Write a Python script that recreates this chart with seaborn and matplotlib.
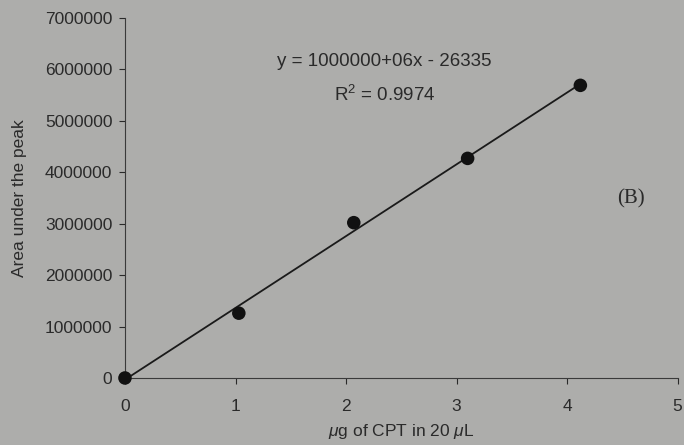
import matplotlib
matplotlib.use("Agg")
import matplotlib.pyplot as plt
import seaborn as sns
import pandas as pd

# Calibration data: amount of CPT injected vs. peak area
cpt_ug = [0.0, 1.03, 2.07, 3.10, 4.12]
peak_area = [0, 1260000, 3020000, 4270000, 5690000]
equation_text = "y = 1000000+06x - 26335"
r2_text = "R$^2$ = 0.9974"
panel_label = "(B)"

df = pd.DataFrame({"cpt": cpt_ug, "area": peak_area})

sns.set_theme(style="ticks")
plt.rcParams["font.family"] = ["Liberation Sans", "DejaVu Sans"]
plt.rcParams["mathtext.fontset"] = "custom"
plt.rcParams["mathtext.rm"] = "Liberation Sans"
plt.rcParams["mathtext.it"] = "Liberation Sans:italic"
bg = "#adadab"
ink = "#2a2a2a"

fig = plt.figure(figsize=(6.84, 4.45), dpi=100, facecolor=bg)
ax = fig.add_axes([0.1827, 0.1506, 0.808, 0.809])
ax.set_facecolor(bg)

sns.regplot(data=df, x="cpt", y="area", ax=ax, ci=None, truncate=True,
            scatter_kws=dict(s=95, color="#111111", alpha=1, edgecolor="none", zorder=3, clip_on=False),
            line_kws=dict(color="#1a1a1a", lw=1.3))

ax.set_xlim(0, 5)
ax.set_ylim(0, 7000000)
ax.set_xticks(range(0, 6))
ax.set_yticks(range(0, 7000001, 1000000))
ax.set_yticklabels([str(v) for v in range(0, 7000001, 1000000)])
ax.tick_params(colors=ink, labelsize=12.5, length=4, width=0.8)
ax.tick_params(axis="x", pad=11)
ax.tick_params(axis="y", pad=5)
for s in ("top", "right"):
    ax.spines[s].set_visible(False)
for s in ("left", "bottom"):
    ax.spines[s].set_color("#3a3a3a")
    ax.spines[s].set_linewidth(0.8)

ax.set_xlabel("$\\mu$g of CPT in 20 $\\mu$L", color=ink, fontsize=12.5, labelpad=6)
ax.set_ylabel("Area under the peak", color=ink, fontsize=12.5, labelpad=13)

ax.text(2.35, 6150000, equation_text, ha="center", va="center", color=ink, fontsize=13.5)
ax.text(2.35, 5500000, r2_text, ha="center", va="center", color=ink, fontsize=13.5)
ax.text(4.58, 3480000, panel_label, ha="center", va="center", color=ink, fontsize=15,
        family=["Liberation Serif", "DejaVu Serif"])

fig.savefig("out.png", dpi=100, facecolor=bg)
